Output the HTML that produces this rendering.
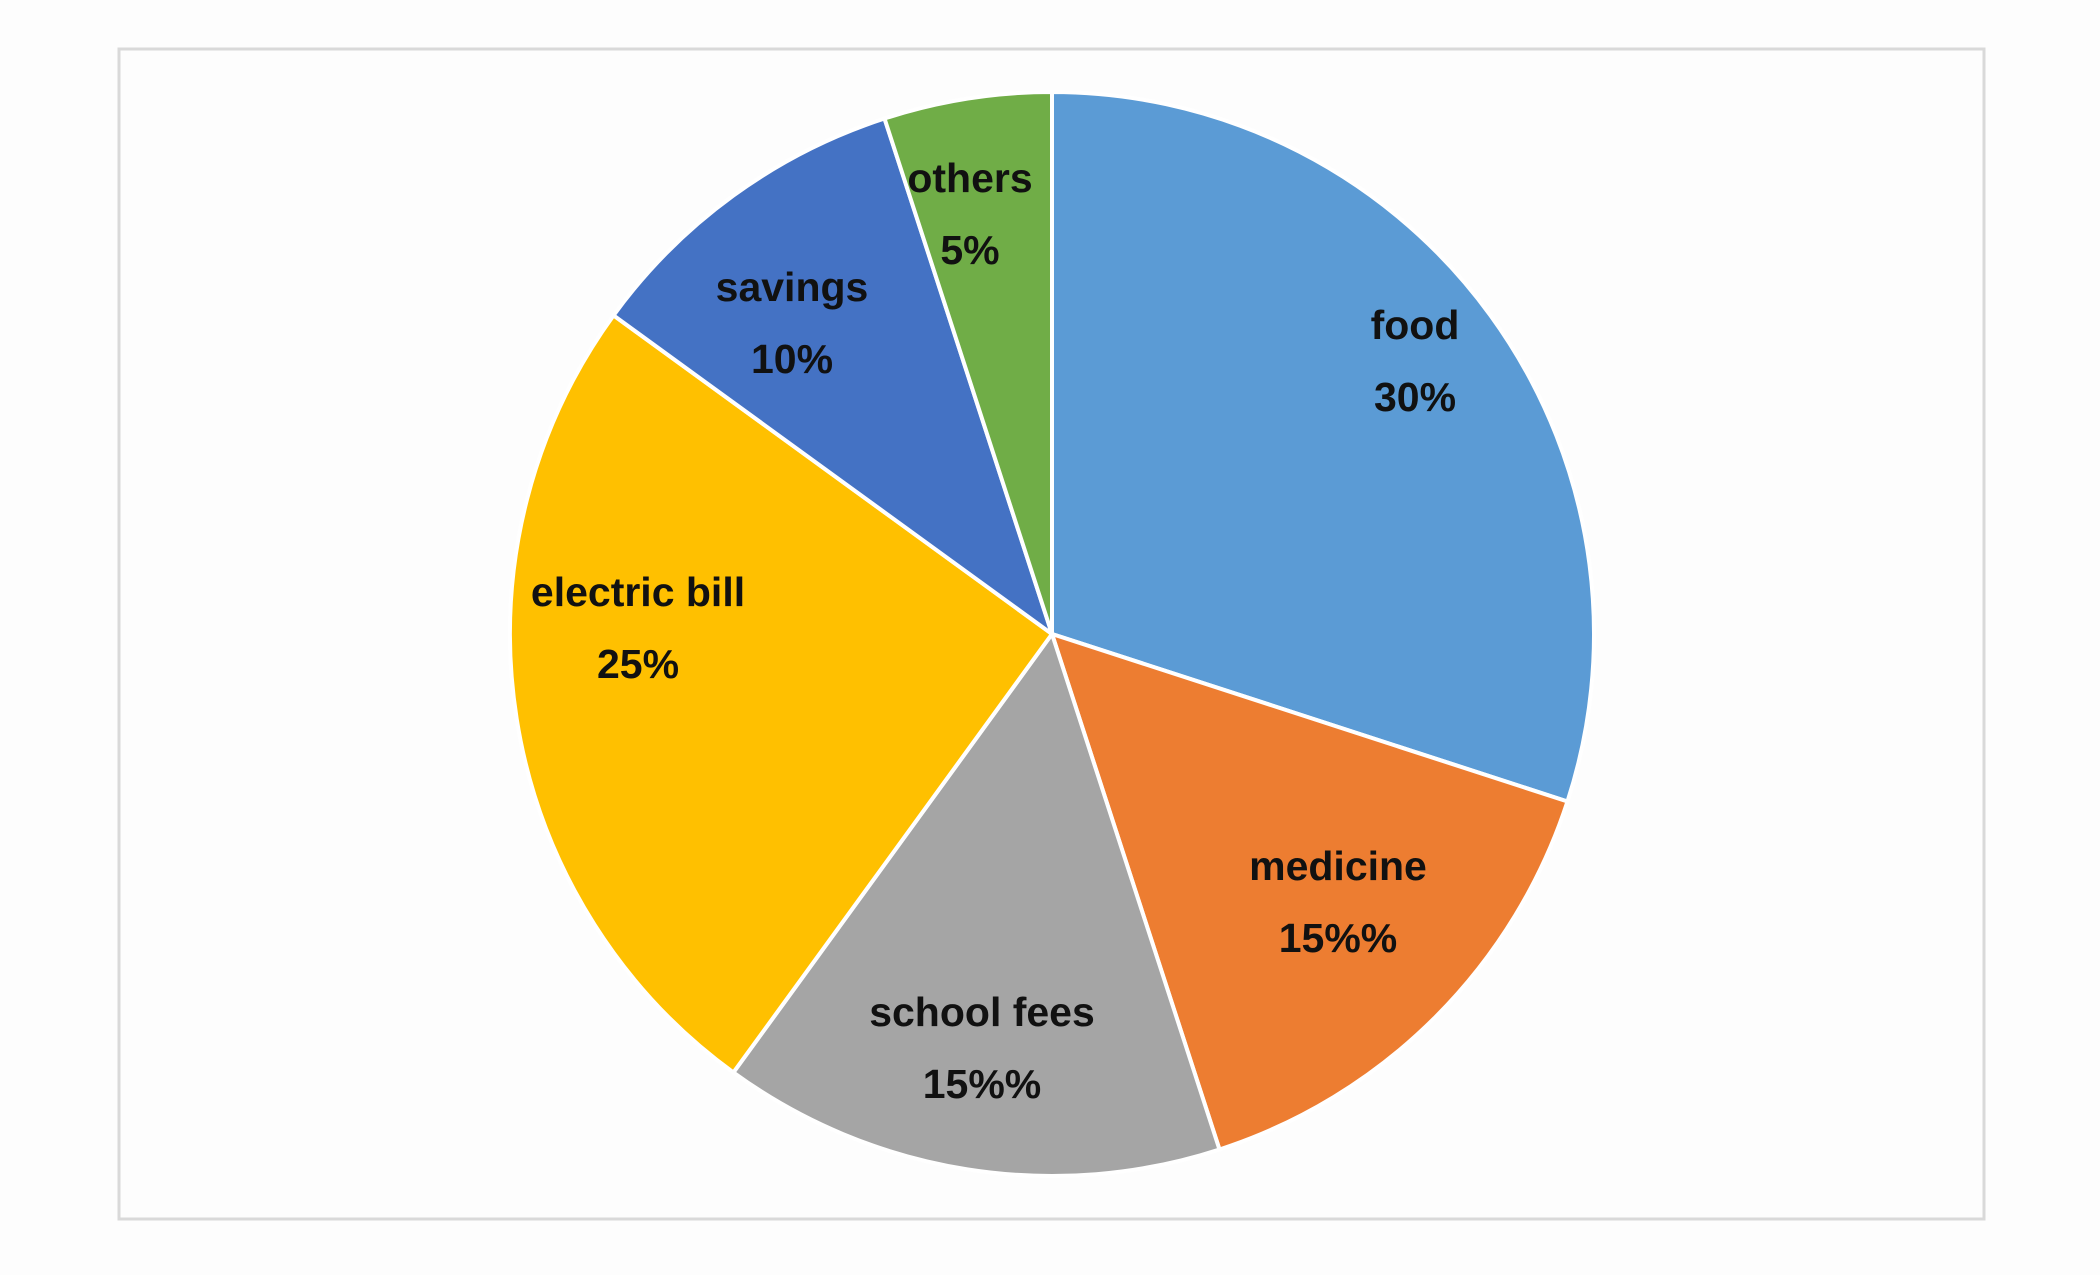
<!DOCTYPE html>
<html><head><meta charset="utf-8"><style>
html,body{margin:0;padding:0;background:#fdfdfd;}
svg{display:block}
text{font-family:"Liberation Sans",sans-serif;font-weight:bold;font-size:41px;fill:#111;}
</style></head><body>
<svg width="2100" height="1275" viewBox="0 0 2100 1275">
<rect x="0" y="0" width="2100" height="1275" fill="#fdfdfd"/>
<rect x="119" y="49" width="1865" height="1170" fill="#fdfdfd" stroke="#d9d9d9" stroke-width="3"/>
<g id="slices"></g>
<g id="labels"></g>
</svg>
<script>
const categories = ["food","medicine","school fees","electric bill","savings","others"];
const values = [30,15,15,25,10,5];
const valueLabels = ["30%","15%%","15%%","25%","10%","5%"];
const colors = ["#5B9BD5","#ED7D31","#A5A5A5","#FFC000","#4472C4","#70AD47"];
const labelPos = [[1415,339],[1338,880],[982,1026],[638,606],[792,301],[970,192]];
const cx=1052, cy=634, r=542;
const ns="http://www.w3.org/2000/svg";
const total=values.reduce((a,b)=>a+b,0);
function pt(a){return [cx+r*Math.sin(a), cy-r*Math.cos(a)];}
let a0=0;
const sg=document.getElementById('slices'), lg=document.getElementById('labels');
values.forEach((v,i)=>{
  const a1=a0+v/total*2*Math.PI;
  const p0=pt(a0), p1=pt(a1);
  const large=(a1-a0)>Math.PI?1:0;
  const p=document.createElementNS(ns,'path');
  p.setAttribute('d',`M${cx},${cy} L${p0[0]},${p0[1]} A${r},${r} 0 ${large} 1 ${p1[0]},${p1[1]} Z`);
  p.setAttribute('fill',colors[i]);
  p.setAttribute('stroke','#fff');
  p.setAttribute('stroke-width','4');
  p.setAttribute('stroke-linejoin','round');
  
  
  sg.appendChild(p);
  const [lx,ly]=labelPos[i];
  const t1=document.createElementNS(ns,'text');
  t1.setAttribute('x',lx);t1.setAttribute('y',ly);t1.setAttribute('text-anchor','middle');
  t1.textContent=categories[i];
  
  
  lg.appendChild(t1);
  const t2=document.createElementNS(ns,'text');
  t2.setAttribute('x',lx);t2.setAttribute('y',ly+72);t2.setAttribute('text-anchor','middle');
  t2.textContent=valueLabels[i];
  
  
  lg.appendChild(t2);
  a0=a1;
});
</script>
</body></html>
